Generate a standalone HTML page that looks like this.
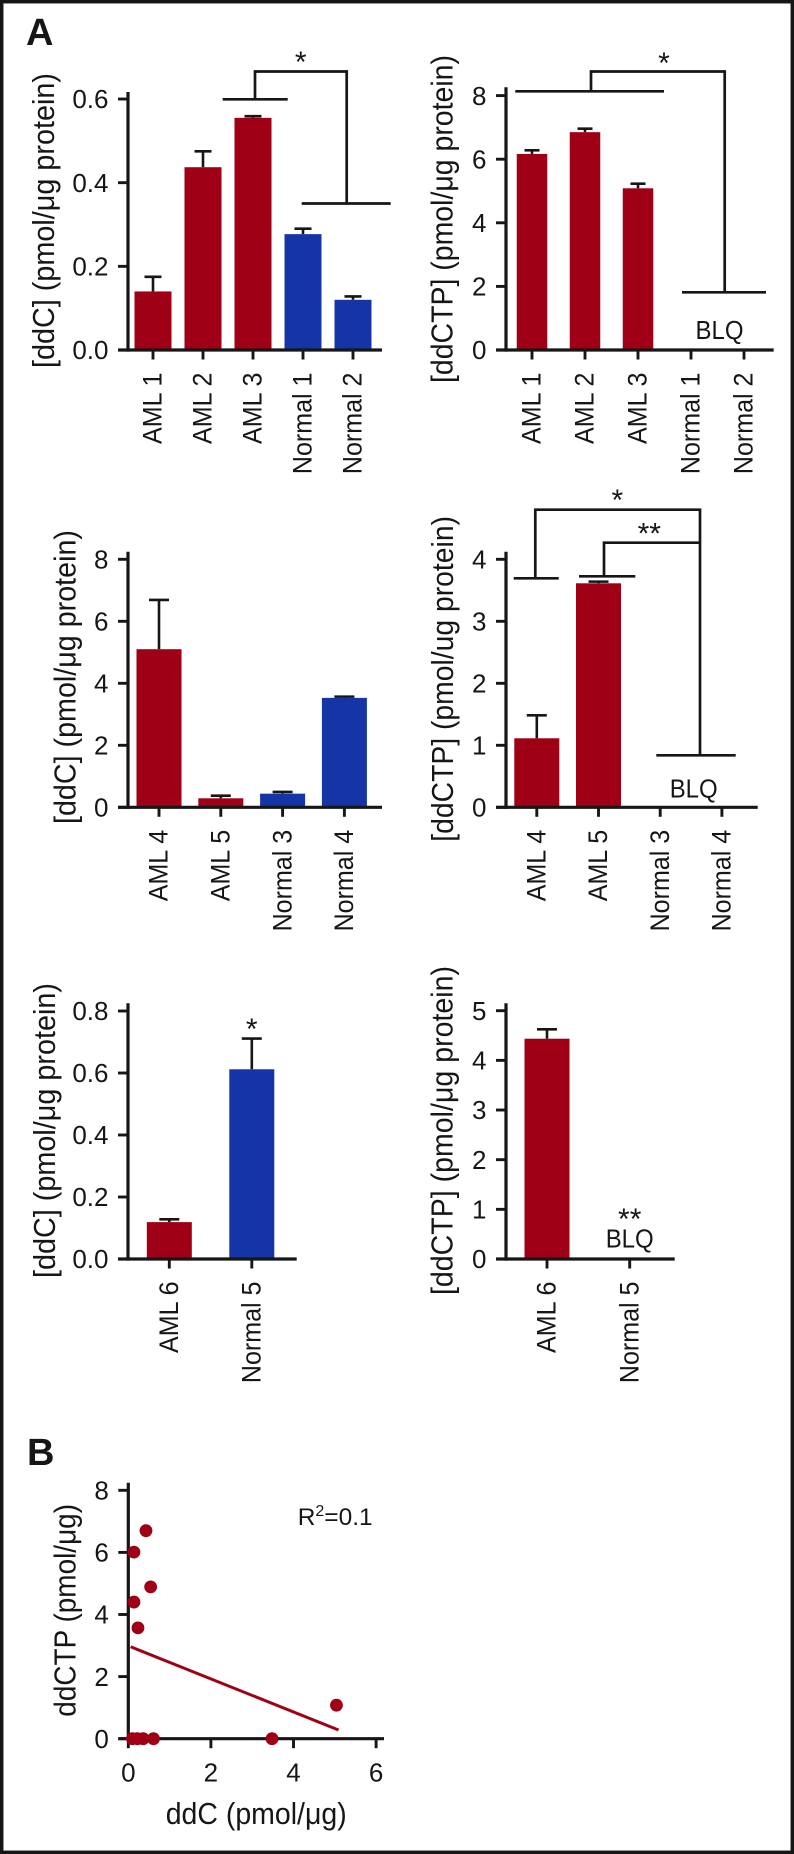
<!DOCTYPE html>
<html lang="en">
<head>
<meta charset="utf-8">
<title>ddC and ddCTP levels</title>
<style>
html,body{margin:0;padding:0;background:#fff;}
svg{display:block;}
text{font-family:"Liberation Sans",sans-serif;fill:#161616;}
.bracket{fill:none;stroke:#161616;stroke-width:2.7;}
</style>
</head>
<body>
<svg id="figure" width="794" height="1854" viewBox="0 0 794 1854" xmlns="http://www.w3.org/2000/svg">
  <rect x="1.7" y="1.7" width="790.6" height="1850.6" fill="#fff" stroke="#161616" stroke-width="3.5"/>
  <text x="26" y="45" font-size="38" font-weight="700">A</text>
  <text x="27" y="1465" font-size="38" font-weight="700">B</text>

  <g>
    <path class="bracket" d="M222.7 99.3H287.7M255 99.3V71.5H346.7V203.5M301.7 203.5H390.7"/>
    <text x="300.7" y="72" font-size="30" text-anchor="middle">*</text>
  </g>
  <g>
    <path class="bracket" d="M515.3 91.3H664M591 91.3V71.5H724.7V292.3M682 292.3H766"/>
    <text x="664" y="73" font-size="30" text-anchor="middle">*</text>
  </g>
  <text x="719.5" y="339" font-size="26" text-anchor="middle" textLength="48" lengthAdjust="spacingAndGlyphs">BLQ</text>
  <g>
    <path class="bracket" d="M513.7 578.3H558.7M535.3 578.3V509.7H700V755.3M656.3 755.3H735.7"/>
    <path class="bracket" d="M579 576.3H635.3M604 576.3V542.7H700"/>
    <text x="617.3" y="510" font-size="30" text-anchor="middle">*</text>
    <text x="649.3" y="543.5" font-size="30" text-anchor="middle">**</text>
  </g>
  <text x="693.7" y="797.3" font-size="26" text-anchor="middle" textLength="48" lengthAdjust="spacingAndGlyphs">BLQ</text>
  <text x="251.7" y="1039" font-size="30" text-anchor="middle">*</text>
  <text x="629.7" y="1229" font-size="30" text-anchor="middle">**</text>
  <text x="629.7" y="1247.3" font-size="26" text-anchor="middle" textLength="48" lengthAdjust="spacingAndGlyphs">BLQ</text>
  <text x="297.7" y="1525" font-size="24.5">R<tspan dy="-9" font-size="16">2</tspan><tspan dy="9">=0.1</tspan></text>
</svg>
<script>
// Panel 1: ddC, AML 1-3 / Normal 1-2
const ddcTopCategories = ['AML 1', 'AML 2', 'AML 3', 'Normal 1', 'Normal 2'];
const ddcTopValues = [0.14, 0.437, 0.555, 0.277, 0.12];
const ddcTopErrorTops = [0.175, 0.475, 0.559, 0.29, 0.128];
const ddcTopTicks = [0, 0.2, 0.4, 0.6];
const ddcTopTickLabels = ['0.0', '0.2', '0.4', '0.6'];

// Panel 2: ddCTP, AML 1-3 / Normal 1-2
const ddctpTopCategories = ['AML 1', 'AML 2', 'AML 3', 'Normal 1', 'Normal 2'];
const ddctpTopValues = [6.165, 6.85, 5.085, 0, 0];
const ddctpTopErrorTops = [6.28, 6.96, 5.23, 0, 0];
const ddctpTopTicks = [0, 2, 4, 6, 8];
const ddctpTopTickLabels = ['0', '2', '4', '6', '8'];

// Panel 3: ddC, AML 4-5 / Normal 3-4
const ddcMiddleCategories = ['AML 4', 'AML 5', 'Normal 3', 'Normal 4'];
const ddcMiddleValues = [5.1, 0.29, 0.44, 3.53];
const ddcMiddleErrorTops = [6.69, 0.376, 0.495, 3.57];
const ddcMiddleTicks = [0, 2, 4, 6, 8];
const ddcMiddleTickLabels = ['0', '2', '4', '6', '8'];

// Panel 4: ddCTP, AML 4-5 / Normal 3-4
const ddctpMiddleCategories = ['AML 4', 'AML 5', 'Normal 3', 'Normal 4'];
const ddctpMiddleValues = [1.113, 3.613, 0, 0];
const ddctpMiddleErrorTops = [1.484, 3.64, 0, 0];
const ddctpMiddleTicks = [0, 1, 2, 3, 4];
const ddctpMiddleTickLabels = ['0', '1', '2', '3', '4'];

// Panel 5: ddC, AML 6 / Normal 5
const ddcBottomCategories = ['AML 6', 'Normal 5'];
const ddcBottomValues = [0.119, 0.612];
const ddcBottomErrorTops = [0.128, 0.711];
const ddcBottomTicks = [0, 0.2, 0.4, 0.6, 0.8];
const ddcBottomTickLabels = ['0.0', '0.2', '0.4', '0.6', '0.8'];

// Panel 6: ddCTP, AML 6 / Normal 5
const ddctpBottomCategories = ['AML 6', 'Normal 5'];
const ddctpBottomValues = [4.436, 0];
const ddctpBottomErrorTops = [4.625, 0];
const ddctpBottomTicks = [0, 1, 2, 3, 4, 5];
const ddctpBottomTickLabels = ['0', '1', '2', '3', '4', '5'];

// Panel B: scatter of ddC against ddCTP with regression line
const scatterDdc = [0.428, 0.137, 0.541, 0.137, 0.234, 5.04, 0.1, 0.22, 0.36, 0.61, 3.48];
const scatterDdctp = [6.7, 6.01, 4.89, 4.4, 3.57, 1.08, 0, 0, 0, 0, 0];
const regressionDdc = [0.057, 5.09];
const regressionDdctp = [2.96, 0.28];
const scatterXTicks = [0, 2, 4, 6];
const scatterXTickLabels = ['0', '2', '4', '6'];
const scatterYTicks = [0, 2, 4, 6, 8];
const scatterYTickLabels = ['0', '2', '4', '6', '8'];

const SVG_NS = 'http://www.w3.org/2000/svg';
const INK = '#161616';
const RED = '#9f0015';
const BLUE = '#1534a5';
const figure = document.getElementById('figure');

function makeNode(tag, parent) {
  const el = document.createElementNS(SVG_NS, tag);
  parent.appendChild(el);
  return el;
}

function addLine(parent, name, x1, y1, x2, y2, width, color) {
  const el = makeNode('line', parent);
  
  
  el.setAttribute('x1', x1);
  el.setAttribute('y1', y1);
  el.setAttribute('x2', x2);
  el.setAttribute('y2', y2);
  el.setAttribute('stroke', color);
  el.setAttribute('stroke-width', width);
  return el;
}

function addText(parent, name, content, x, y, size, anchor, rotated, length) {
  const el = makeNode('text', parent);
  
  
  el.setAttribute('x', x);
  el.setAttribute('y', y);
  el.setAttribute('font-size', size);
  el.setAttribute('text-anchor', anchor);
  if (rotated) el.setAttribute('transform', 'rotate(-90 ' + x + ' ' + y + ')');
  el.textContent = content;
  if (length) {
    el.setAttribute('textLength', length);
    el.setAttribute('lengthAdjust', 'spacingAndGlyphs');
  }
  return el;
}

function addCategoryLabel(parent, content, x, y) {
  const el = addText(parent, 'x-tick-label', content, x, y, 26.5, 'end', true);
  el.setAttribute('textLength', el.getComputedTextLength() * 0.945);
  el.setAttribute('lengthAdjust', 'spacingAndGlyphs');
  return el;
}

function drawYAxis(group, axis, ticks, labels, yScale) {
  addLine(group, 'y-axis-line', axis.left, axis.top, axis.left, axis.bottom + 1.6, 3.2, INK);
  ticks.forEach(function (tick, i) {
    const y = yScale(tick);
    addLine(group, 'y-axis-tick', axis.left - 10, y, axis.left, y, 2.9, INK);
    addText(group, 'y-tick-label', labels[i], axis.left - 19.5, y + 9.2, 26, 'end');
  });
}

function drawBarPanel(layout, categories, values, errorTops, ticks, labels) {
  const group = makeNode('g', figure);
  
  
  const yScale = function (v) { return layout.bottom - v * layout.unitPx; };
  const xScale = function (i) { return layout.firstCenter + i * layout.step; };

  categories.forEach(function (category, i) {
    if (values[i] <= 0) return;
    const isNormal = category.indexOf('Normal') === 0;
    const x = xScale(i);
    const top = yScale(values[i]);
    const errTop = yScale(errorTops[i]);
    addLine(group, 'error-stem', x, errTop, x, top, 2.6, INK);
    addLine(group, 'error-cap', x - layout.capW / 2, errTop, x + layout.capW / 2, errTop, 2.6, INK);
    const bar = makeNode('rect', group);
    
    
    bar.setAttribute('x', x - layout.barW / 2);
    bar.setAttribute('y', top);
    bar.setAttribute('width', layout.barW);
    bar.setAttribute('height', layout.bottom - top);
    bar.setAttribute('fill', isNormal ? BLUE : RED);
  });

  drawYAxis(group, layout, ticks, labels, yScale);
  addLine(group, 'x-axis-line', layout.left - 10, layout.bottom, layout.right, layout.bottom, 3.2, INK);
  categories.forEach(function (category, i) {
    const x = xScale(i);
    addLine(group, 'x-axis-tick', x, layout.bottom, x, layout.bottom + 9.5, 2.9, INK);
    addCategoryLabel(group, category, x + 8.7, layout.bottom + 22.5);
  });
  addText(group, 'y-axis-title', layout.title, layout.titleX, layout.titleBottom, 31, 'start', true, layout.titleLength);
}

function drawScatter(layout) {
  const group = makeNode('g', figure);
  
  
  const xScale = function (v) { return layout.left + v * layout.unitX; };
  const yScale = function (v) { return layout.bottom - v * layout.unitPx; };

  drawYAxis(group, layout, scatterYTicks, scatterYTickLabels, yScale);
  addLine(group, 'x-axis-line', layout.left - 10, layout.bottom, layout.right, layout.bottom, 3.2, INK);
  scatterXTicks.forEach(function (tick, i) {
    const x = xScale(tick);
    addLine(group, 'x-axis-tick', x, layout.bottom, x, layout.bottom + 9.5, 2.9, INK);
    addText(group, 'x-tick-label', scatterXTickLabels[i], x, layout.bottom + 43, 26, 'middle');
  });
  addLine(group, 'regression-line', xScale(regressionDdc[0]), yScale(regressionDdctp[0]), xScale(regressionDdc[1]), yScale(regressionDdctp[1]), 3, RED);
  scatterDdc.forEach(function (value, i) {
    const point = makeNode('circle', group);
    
    
    point.setAttribute('cx', xScale(value));
    point.setAttribute('cy', yScale(scatterDdctp[i]));
    point.setAttribute('r', 6.4);
    point.setAttribute('fill', RED);
  });
  addText(group, 'x-axis-title', 'ddC (pmol/\u03bcg)', 165.7, 1824, 31, 'start', false, 181);
  addText(group, 'y-axis-title', 'ddCTP (pmol/\u03bcg)', 75.5, 1716.7, 31, 'start', true, 212.7);
}

drawBarPanel({name: 'ddc-top-chart', left: 128, right: 382, top: 92, bottom: 350, unitPx: 418.3,
  firstCenter: 153, step: 50, barW: 37, capW: 17, title: '[ddC] (pmol/\u03bcg protein)',
  titleX: 54, titleBottom: 368, titleLength: 295},
  ddcTopCategories, ddcTopValues, ddcTopErrorTops, ddcTopTicks, ddcTopTickLabels);

drawBarPanel({name: 'ddctp-top-chart', left: 506, right: 773.7, top: 87.3, bottom: 350, unitPx: 31.8,
  firstCenter: 532, step: 53, barW: 30.5, capW: 15, title: '[ddCTP] (pmol/\u03bcg protein)',
  titleX: 452.5, titleBottom: 383, titleLength: 328},
  ddctpTopCategories, ddctpTopValues, ddctpTopErrorTops, ddctpTopTicks, ddctpTopTickLabels);

drawBarPanel({name: 'ddc-middle-chart', left: 128, right: 382, top: 551.7, bottom: 807.3, unitPx: 31,
  firstCenter: 159, step: 61.8, barW: 45, capW: 20, title: '[ddC] (pmol/\u03bcg protein)',
  titleX: 75.5, titleBottom: 824, titleLength: 294},
  ddcMiddleCategories, ddcMiddleValues, ddcMiddleErrorTops, ddcMiddleTicks, ddcMiddleTickLabels);

drawBarPanel({name: 'ddctp-middle-chart', left: 506, right: 757.7, top: 551.7, bottom: 807.3, unitPx: 62,
  firstCenter: 536.8, step: 61.7, barW: 45, capW: 20, title: '[ddCTP] (pmol/ug protein)',
  titleX: 453, titleBottom: 841.7, titleLength: 325.7},
  ddctpMiddleCategories, ddctpMiddleValues, ddctpMiddleErrorTops, ddctpMiddleTicks, ddctpMiddleTickLabels);

drawBarPanel({name: 'ddc-bottom-chart', left: 128, right: 296.7, top: 1003.3, bottom: 1259, unitPx: 310,
  firstCenter: 169.3, step: 82.5, barW: 45, capW: 20, title: '[ddC] (pmol/\u03bcg protein)',
  titleX: 55, titleBottom: 1278, titleLength: 295},
  ddcBottomCategories, ddcBottomValues, ddcBottomErrorTops, ddcBottomTicks, ddcBottomTickLabels);

drawBarPanel({name: 'ddctp-bottom-chart', left: 506, right: 674.7, top: 1003.3, bottom: 1259, unitPx: 49.66,
  firstCenter: 547, step: 82.7, barW: 45, capW: 20, title: '[ddCTP] (pmol/\u03bcg protein)',
  titleX: 452.5, titleBottom: 1295, titleLength: 329},
  ddctpBottomCategories, ddctpBottomValues, ddctpBottomErrorTops, ddctpBottomTicks, ddctpBottomTickLabels);

drawScatter({name: 'ddc-ddctp-scatter-chart', left: 128.3, right: 384, top: 1482.7, bottom: 1738.7, unitPx: 31.05, unitX: 41.3});
</script>
</body>
</html>
